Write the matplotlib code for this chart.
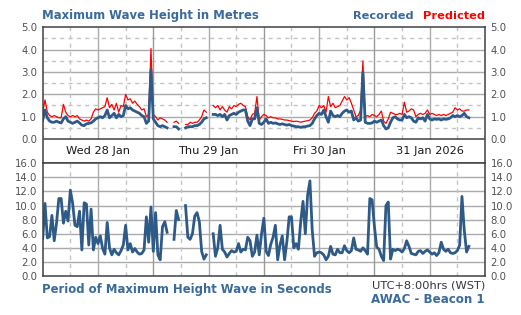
import numpy as np
import matplotlib.pyplot as plt

nan = np.nan

# half-hourly samples starting Wed 28 Jan 00:00 (WST)
rec_wed = [0.85, 1.3, 0.95, 0.8, 0.75, 0.75, 0.8, 0.75, 0.72, 0.9, 1.0, 0.8,
           0.75, 0.7, 0.75, 0.8, 0.72, 0.62, 0.6, 0.68, 0.7, 0.72, 0.8, 0.9,
           0.95, 1.0, 0.95, 1.05, 1.3, 0.95, 1.05, 1.15, 0.95, 1.1, 1.0, 1.05,
           1.5, 1.35, 1.4, 1.3, 1.25, 1.2, 1.15, 1.05, 1.0, 0.7, 0.8, 3.1]
rec_thu = [0.9, 0.75, 0.6, 0.55, 0.6, 0.55, 0.5, nan, nan, 0.55, 0.55, 0.45,
           nan, nan, 0.5, 0.55, 0.55, 0.55, 0.6, 0.6, 0.65, 0.75, 0.9, 0.95,
           nan, nan, 1.1, 1.1, 1.05, 1.1, 1.0, 1.1, 0.85, 1.05, 1.1, 1.15,
           1.1, 1.2, 1.25, 1.3, 1.3, 0.8, 0.6, 0.9, 0.9, 1.4, 0.7, 0.65]
rec_fri = [0.75, 0.9, 0.7, 0.75, 0.7, 0.72, 0.68, 0.65, 0.68, 0.65, 0.62, 0.65,
           0.6, 0.58, 0.55, 0.55, 0.52, 0.55, 0.55, 0.58, 0.6, 0.7, 0.9, 1.05,
           1.15, 1.1, 1.3, 1.0, 0.75, 1.25, 1.05, 1.0, 1.05, 1.0, 1.15, 1.25,
           1.3, 1.2, 1.25, 0.85, 0.95, 0.8, 0.85, 3.0, 0.75, 0.7, 0.7, 0.72]
rec_sat = [0.8, 0.75, 0.8, 0.85, 0.6, 0.45, 0.5, 0.75, 0.95, 1.0, 0.9, 0.85,
           0.85, 1.1, 0.95, 1.0, 0.95, 0.8, 0.75, 0.95, 0.9, 0.95, 0.8, 1.1,
           0.9, 0.85, 0.9, 0.88, 0.9, 0.85, 0.9, 0.88, 0.9, 0.95, 1.05, 1.0,
           1.05, 1.0, 1.05, 1.15, 1.0, 0.95]

pred_wed = [1.2, 1.75, 1.2, 1.05, 1.0, 1.05, 1.0, 0.95, 0.95, 1.55, 1.2, 1.05,
            1.0, 1.05, 1.0, 1.05, 0.9, 0.85, 0.8, 0.85, 0.8, 0.9, 1.2, 1.35,
            1.3, 1.35, 1.4, 1.45, 1.85, 1.4, 1.55, 1.3, 1.6, 1.2, 1.5, 1.45,
            2.0, 1.75, 1.8, 1.6, 1.7, 1.55, 1.45, 1.3, 1.35, 1.0, 1.1, 4.05]
pred_thu = [1.1, 1.0, 0.85, 0.95, 0.9, 0.85, 0.75, nan, nan, 0.75, 0.8, 0.7,
            nan, nan, 0.65, 0.65, 0.75, 0.7, 0.75, 0.75, 0.85, 1.0, 1.3, 1.2,
            nan, nan, 1.5, 1.4, 1.5, 1.3, 1.45, 1.3, 1.2, 1.45, 1.35, 1.5,
            1.45, 1.55, 1.6, 1.5, 1.45, 1.0, 0.85, 1.1, 1.15, 1.9, 0.85, 1.0]
pred_fri = [1.1, 1.05, 0.95, 1.0, 0.95, 0.95, 0.9, 0.9, 0.88, 0.85, 0.85, 0.82,
            0.8, 0.78, 0.8, 0.78, 0.75, 0.78, 0.8, 0.82, 0.85, 0.95, 1.15, 1.25,
            1.5, 1.4, 1.5, 1.2, 1.9, 1.45, 1.6, 1.4, 1.45, 1.5, 1.7, 1.9,
            1.75, 1.85, 1.6, 1.3, 1.0, 1.05, 1.3, 3.5, 1.0, 1.05, 1.0, 1.1]
pred_sat = [1.05, 1.0, 1.1, 1.25, 0.8, 0.7, 0.9, 1.2, 1.15, 1.1, 1.1, 1.15,
            1.1, 1.65, 1.2, 1.25, 1.35, 1.3, 1.0, 1.1, 1.15, 1.1, 1.15, 1.3,
            1.1, 1.15, 1.1, 1.05, 1.1, 1.05, 1.1, 1.05, 1.1, 1.15, 1.2, 1.4,
            1.3, 1.35, 1.25, 1.25, 1.3, 1.3]

per_wed = [5.3, 10.3, 5.4, 5.6, 8.6, 5.0, 7.5, 11.0, 11.0, 7.5, 9.2, 7.8,
           12.2, 10.3, 7.2, 7.0, 9.2, 3.7, 10.4, 10.2, 4.4, 9.5, 3.7, 5.5,
           4.6, 5.7, 3.9, 3.1, 7.6, 4.0, 3.0, 3.8, 3.3, 3.0, 3.6, 4.4,
           7.2, 3.7, 4.6, 3.4, 3.9, 3.4, 3.1, 3.2, 3.7, 8.4, 4.8, 9.8]
per_thu = [3.5, 9.0, 3.0, 2.3, 7.0, 7.7, 6.2, nan, nan, 5.2, 9.3, 8.0,
           nan, nan, 10.0, 5.5, 5.2, 6.0, 8.5, 9.0, 7.7, 3.5, 2.4, 3.0,
           nan, nan, 6.0, 2.8, 4.0, 7.2, 3.8, 3.4, 2.7, 3.2, 3.6, 3.4,
           3.5, 4.6, 3.4, 3.8, 3.7, 5.5, 5.0, 2.8, 3.4, 5.8, 3.0, 6.0]
per_fri = [8.2, 3.5, 2.9, 4.5, 5.5, 7.2, 2.3, 4.4, 5.7, 2.3, 4.9, 8.4,
           8.4, 4.0, 4.6, 3.8, 7.7, 10.6, 6.0, 11.5, 13.5, 6.5, 2.8, 3.3,
           3.4, 3.3, 3.0, 2.3, 2.8, 4.2, 3.1, 3.0, 3.8, 3.3, 3.3, 4.3,
           3.6, 3.3, 3.6, 5.4, 3.8, 3.7, 3.5, 4.0, 3.6, 3.1, 11.0, 10.8]
per_sat = [7.0, 4.1, 3.8, 2.8, 2.2, 10.0, 10.5, 2.4, 3.8, 3.6, 3.8, 3.7,
           3.4, 3.9, 5.0, 4.2, 3.2, 3.1, 3.0, 3.5, 3.6, 3.2, 3.5, 3.7,
           3.4, 3.1, 3.3, 2.9, 3.3, 4.8, 3.8, 3.5, 3.8, 3.3, 3.2, 3.3,
           3.6, 4.4, 11.3, 6.5, 3.4, 4.2]

day_labels = ["Wed 28 Jan", "Thu 29 Jan", "Fri 30 Jan", "31 Jan 2026"]

recorded = np.array(rec_wed + rec_thu + rec_fri + rec_sat)
predicted = np.array(pred_wed + pred_thu + pred_fri + pred_sat)
period = np.array(per_wed + per_thu + per_fri + per_sat)
hours = np.arange(len(recorded)) * 0.5

blue = "#2e5a88"
title_col = "#3a6a9c"
spine_col = "#404040"
grid_col = "#ababab"
dash_col = "#c4c4c4"
W, H = 521, 315

fig = plt.figure(figsize=(W / 100, H / 100), dpi=100)
fig.patch.set_facecolor("white")

def px(x0, y0, x1, y1):
    return [x0 / W, 1 - y1 / H, (x1 - x0) / W, (y1 - y0) / H]

band = 24.3 / 22.35  # label band under the top panel, in data units
ax1 = fig.add_axes(px(42.7, 27.3, 485, 163.3))
ax2 = fig.add_axes(px(42.7, 163.3, 485, 276))

for ax in (ax1, ax2):
    ax.set_xlim(0, 96)
    ax.set_xticks([])
    for s in ax.spines.values():
        s.set_color(spine_col)
        s.set_linewidth(1.1)
    ax.tick_params(axis="y", length=0, labelleft=True, labelright=True,
                   labelsize=7.3, labelcolor="#505050", pad=4)

# top panel grid
ax1.set_ylim(-band, 5)
for v in np.arange(1, 5):
    ax1.axhline(v, color=grid_col, lw=1.0, zorder=0)
for v in np.arange(0.5, 5, 1):
    ax1.axhline(v, color=dash_col, lw=1.0, ls=(0, (3, 3)), zorder=0)
ax1.vlines(np.arange(12, 96, 24), 0, 5, color=grid_col, lw=1.0, zorder=0)
ax1.vlines(np.arange(6, 96, 12), 0, 5, color=dash_col, lw=1.0,
           linestyles=(0, (3, 3)), zorder=0)
for d in range(1, 4):
    ax1.axvline(24 * d, color="#999999", lw=1.0, zorder=0)
ax1.axhline(0, color=spine_col, lw=1.1, zorder=3)
ax1.set_yticks(np.arange(0, 5.1, 1))
ax1.set_yticklabels([f"{v:.1f}" for v in np.arange(0, 5.1, 1)])

ax1.plot(hours, predicted, color="red", lw=0.9, zorder=2)
ax1.plot(hours, recorded, color=blue, lw=2.0, zorder=2)

for i, lab in enumerate(day_labels):
    ax1.text(12 + 24 * i, -band / 2, lab, ha="center", va="center",
             fontsize=8.2, color="#1a1a1a")

# bottom panel grid
ax2.set_ylim(0, 16)
for v in np.arange(2, 16, 2):
    ax2.axhline(v, color=grid_col, lw=1.0, zorder=0)
ax2.vlines(np.arange(12, 96, 24), 0, 16, color=grid_col, lw=1.0, zorder=0)
ax2.vlines(np.arange(6, 96, 12), 0, 16, color=dash_col, lw=1.0,
           linestyles=(0, (3, 3)), zorder=0)
for d in range(1, 4):
    ax2.axvline(24 * d, color="#999999", lw=1.0, zorder=0)
ax2.set_yticks(np.arange(0, 16.1, 2))
ax2.set_yticklabels([f"{v:.1f}" for v in np.arange(0, 16.1, 2)])
ax2.plot(hours, period, color=blue, lw=2.0, zorder=2)

# titles and legend text
fig.text(42 / W, 1 - 16 / H, "Maximum Wave Height in Metres", fontsize=8.4,
         fontweight="bold", color=title_col, ha="left", va="center")
fig.text(485 / W, 1 - 16 / H, "Predicted", fontsize=8.2, fontweight="bold",
         color="red", ha="right", va="center")
fig.text(414 / W, 1 - 16 / H, "Recorded", fontsize=8.2, fontweight="bold",
         color=title_col, ha="right", va="center")
fig.text(42 / W, 1 - 289 / H, "Period of Maximum Height Wave in Seconds",
         fontsize=8.4, fontweight="bold", color=title_col, ha="left", va="center")
fig.text(485 / W, 1 - 285.5 / H, "UTC+8:00hrs (WST)", fontsize=8.2,
         color="#333344", ha="right", va="center")
fig.text(485 / W, 1 - 299.5 / H, "AWAC - Beacon 1", fontsize=8.6,
         fontweight="bold", color=title_col, ha="right", va="center")

fig.savefig("out.png", dpi=100)
